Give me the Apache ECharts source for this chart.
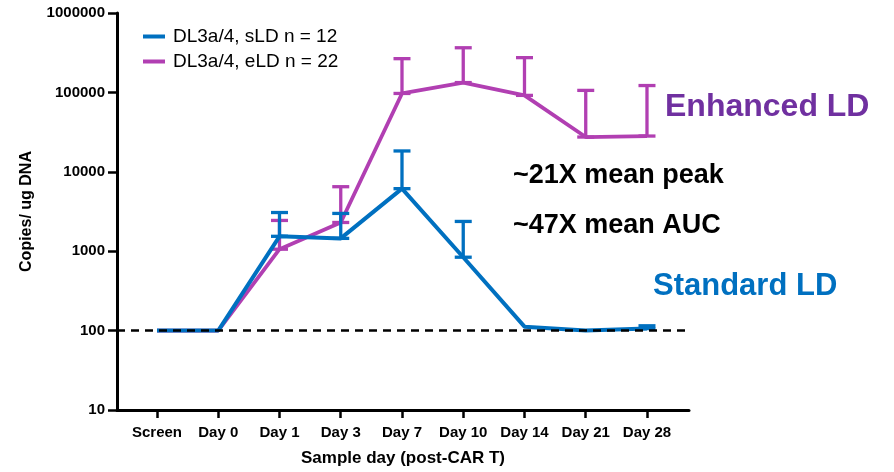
<!DOCTYPE html>
<html>
<head>
<meta charset="utf-8">
<script src="https://cdn.jsdelivr.net/npm/echarts@6/dist/echarts.min.js"></script>
<style>
  html, body { margin: 0; padding: 0; background: #ffffff; }
  #chart { width: 894px; height: 472px; }
</style>
</head>
<body>
<div id="chart"></div>
<script>
// Sample days (post-CAR T)
var categories = ['Screen', 'Day 0', 'Day 1', 'Day 3', 'Day 7', 'Day 10', 'Day 14', 'Day 21', 'Day 28'];

// DL3a/4, standard lymphodepletion (sLD): mean copies/ug DNA and upper error bar
var sldMean  = [100, 100, 1540, 1450, 6130, 840, 112, 100, 106];
var sldUpper = [null, null, 3070, 2990, 18300, 2370, null, null, 115];

// DL3a/4, enhanced lymphodepletion (eLD): mean copies/ug DNA and upper error bar
var eldMean  = [100, 100, 1060, 2300, 97000, 133000, 91700, 27400, 28200];
var eldUpper = [null, null, 2440, 6490, 266000, 365000, 274000, 106000, 122000];

// Log axis tick values
var yTicks = [10, 100, 1000, 10000, 100000, 1000000];

// Lower limit of quantification reference line
var lloq = 100;

var BLUE = '#0070C0';
var PURPLE = '#B13FB2';
var FONT = "'Liberation Sans', Arial, sans-serif";

function toPoints(values) {
  return values.map(function (v, i) { return [i, v]; });
}
function toBars(means, uppers) {
  var out = [];
  means.forEach(function (m, i) {
    if (uppers[i] != null) out.push([i, m, uppers[i]]);
  });
  return out;
}
function errorBarRenderer(color) {
  return function (params, api) {
    var x = api.value(0);
    var lo = api.coord([x, api.value(1)]);
    var hi = api.coord([x, api.value(2)]);
    var hw = 8.5;
    var st = { stroke: color, lineWidth: 3.3 };
    return {
      type: 'group',
      children: [
        { type: 'line', shape: { x1: lo[0], y1: lo[1], x2: hi[0], y2: hi[1] }, style: st },
        { type: 'line', shape: { x1: hi[0] - hw, y1: hi[1], x2: hi[0] + hw, y2: hi[1] }, style: st },
        { type: 'line', shape: { x1: lo[0] - hw, y1: lo[1], x2: lo[0] + hw, y2: lo[1] }, style: st }
      ]
    };
  };
}

var tickIdx = categories.map(function (c, i) { return i; });

var chart = echarts.init(document.getElementById('chart'), null, { renderer: 'canvas' });

var option = {
  animation: false,
  backgroundColor: '#ffffff',
  textStyle: { fontFamily: FONT },
  grid: { left: 117, right: 205, top: 13, bottom: 59, containLabel: false },
  legend: {
    orient: 'vertical',
    left: 138,
    top: 22,
    itemWidth: 22,
    itemHeight: 4,
    itemGap: 6,
    icon: 'rect',
    data: ['DL3a/4, sLD n = 12', 'DL3a/4, eLD n = 22'],
    textStyle: { fontFamily: FONT, fontSize: 19, color: '#000000', padding: [0, 0, 0, 3] }
  },
  xAxis: {
    type: 'value',
    min: -0.653,
    max: 8.686,
    name: 'Sample day (post-CAR T)',
    nameLocation: 'middle',
    nameGap: 40,
    nameTextStyle: { fontFamily: FONT, fontSize: 17, fontWeight: 'bold', color: '#000000', verticalAlign: 'top' },
    splitLine: { show: false },
    axisLine: { onZero: false, lineStyle: { color: '#000000', width: 3 } },
    axisTick: { show: true, customValues: tickIdx, length: 8, lineStyle: { color: '#000000', width: 2.5 } },
    axisLabel: {
      customValues: tickIdx,
      margin: 15,
      fontFamily: FONT,
      fontSize: 15,
      fontWeight: 'bold',
      color: '#000000',
      formatter: function (v) { return categories[Math.round(v)] || ''; }
    }
  },
  yAxis: {
    type: 'log',
    logBase: 10,
    min: 10,
    max: 1000000,
    name: 'Copies/ ug DNA',
    nameLocation: 'middle',
    nameGap: 82,
    nameTextStyle: { fontFamily: FONT, fontSize: 16, fontWeight: 'bold', color: '#000000' },
    splitLine: { show: false },
    axisLine: { onZero: false, lineStyle: { color: '#000000', width: 3 } },
    axisTick: { show: true, length: 9, lineStyle: { color: '#000000', width: 2.5 } },
    axisLabel: {
      margin: 12,
      fontFamily: FONT,
      fontSize: 15,
      fontWeight: 'bold',
      color: '#000000',
      formatter: function (v) {
        var r = Math.round(v);
        return yTicks.indexOf(r) >= 0 ? String(r) : '';
      }
    }
  },
  series: [
    {
      name: 'DL3a/4, eLD n = 22',
      type: 'line',
      data: toPoints(eldMean),
      showSymbol: false,
      symbol: 'none',
      lineStyle: { color: PURPLE, width: 3.8 },
      itemStyle: { color: PURPLE },
      z: 2
    },
    {
      name: 'eLD error',
      type: 'custom',
      data: toBars(eldMean, eldUpper),
      renderItem: errorBarRenderer(PURPLE),
      z: 2
    },
    {
      name: 'DL3a/4, sLD n = 12',
      type: 'line',
      data: toPoints(sldMean),
      showSymbol: false,
      symbol: 'none',
      lineStyle: { color: BLUE, width: 4 },
      itemStyle: { color: BLUE },
      z: 3,
      markLine: {
        silent: true,
        symbol: ['none', 'none'],
        label: { show: false },
        lineStyle: { color: '#000000', type: [8, 6], width: 2.5 },
        data: [{ yAxis: lloq }],
        z: 4
      }
    },
    {
      name: 'sLD error',
      type: 'custom',
      data: toBars(sldMean, sldUpper),
      renderItem: errorBarRenderer(BLUE),
      z: 3
    }
  ],
  graphic: [
    { type: 'text', left: 665, top: 91, style: { text: 'Enhanced LD', font: "bold 32px 'Liberation Sans', Arial, sans-serif", fill: '#7030A0' } },
    { type: 'text', left: 513, top: 162, style: { text: '~21X mean peak', font: "bold 27px 'Liberation Sans', Arial, sans-serif", fill: '#000000' } },
    { type: 'text', left: 513, top: 212, style: { text: '~47X mean AUC', font: "bold 27px 'Liberation Sans', Arial, sans-serif", fill: '#000000' } },
    { type: 'text', left: 653, top: 271, style: { text: 'Standard LD', font: "bold 31px 'Liberation Sans', Arial, sans-serif", fill: '#0070C0' } }
  ]
};

chart.setOption(option);
</script>
</body>
</html>
